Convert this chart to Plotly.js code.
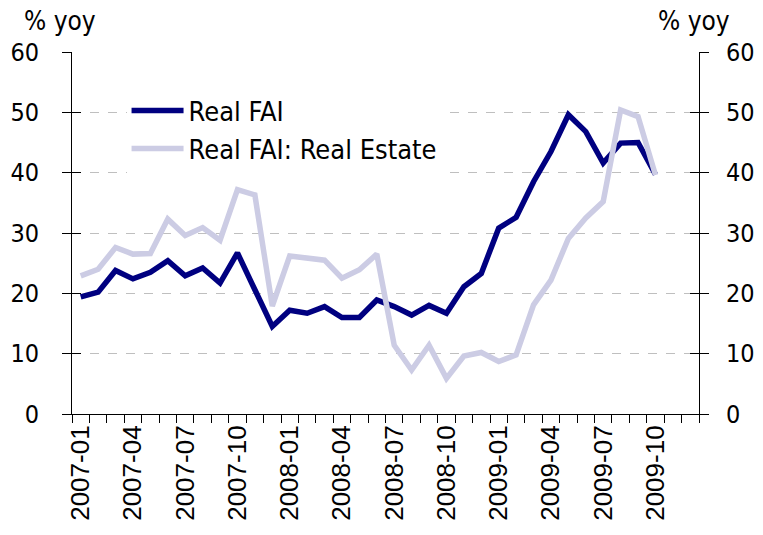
<!DOCTYPE html>
<html>
<head>
<meta charset="utf-8">
<script src="https://cdn.plot.ly/plotly-3.0.1.min.js"></script>
<style>
  html, body { margin: 0; padding: 0; background: #ffffff; }
  #chart { width: 763px; height: 535px; }
</style>
</head>
<body>
<div id="chart"></div>
<script>
// Axis categories (monthly), tick labels shown every third month
const months = [
  "2007-01","2007-02","2007-03","2007-04","2007-05","2007-06",
  "2007-07","2007-08","2007-09","2007-10","2007-11","2007-12",
  "2008-01","2008-02","2008-03","2008-04","2008-05","2008-06",
  "2008-07","2008-08","2008-09","2008-10","2008-11","2008-12",
  "2009-01","2009-02","2009-03","2009-04","2009-05","2009-06",
  "2009-07","2009-08","2009-09","2009-10","2009-11","2009-12"
];
const labelledMonths = [
  "2007-01","2007-04","2007-07","2007-10",
  "2008-01","2008-04","2008-07","2008-10",
  "2009-01","2009-04","2009-07","2009-10"
];
const dataMonths = months.slice(0, 34);

// Series values (% yoy)
const realFAI = [
  19.4, 20.2, 23.8, 22.4, 23.5, 25.4, 22.9, 24.2, 21.7, 26.7, 20.6, 14.5,
  17.2, 16.7, 17.8, 16.0, 16.0, 18.9, 17.8, 16.4, 18.0, 16.7, 21.1, 23.3,
  30.8, 32.6, 38.5, 43.5, 49.6, 46.8, 41.6, 44.9, 45.0, 39.7
];
const realEstate = [
  22.9, 24.0, 27.6, 26.5, 26.6, 32.3, 29.6, 30.9, 28.8, 37.2, 36.3, 17.9,
  26.2, 25.8, 25.5, 22.5, 23.9, 26.5, 11.4, 7.3, 11.4, 5.9, 9.6, 10.2,
  8.7, 9.8, 18.1, 22.2, 29.1, 32.5, 35.2, 50.4, 49.3, 39.6
];
const yTicks = [0, 10, 20, 30, 40, 50, 60];

const labelFont = "'DejaVu Sans Condensed', 'DejaVu Sans', sans-serif";

const traces = [
  {
    x: dataMonths, y: realFAI, name: "Real FAI", type: "scatter", mode: "lines",
    line: { color: "#000080", width: 5.5 }, hoverinfo: "skip"
  },
  {
    x: dataMonths, y: realEstate, name: "Real FAI: Real Estate", type: "scatter", mode: "lines",
    line: { color: "#CCCCE4", width: 5.5 }, hoverinfo: "skip"
  }
];
// transparent copies so the secondary (right / cross-tick) axes get drawn
["y2", "y3", "y4"].forEach(function (ax) {
  traces.push({
    x: dataMonths, y: realFAI, yaxis: ax, type: "scatter", mode: "lines",
    line: { color: "rgba(0,0,0,0)", width: 0 }, showlegend: false, hoverinfo: "skip"
  });
});

const yBase = {
  range: [0, 60], tickmode: "array", tickvals: yTicks,
  showline: true, linecolor: "#000000", linewidth: 1,
  ticklen: 9, tickcolor: "#000000", tickwidth: 1,
  tickfont: { family: labelFont, size: 25, color: "#000000" },
  zeroline: false, fixedrange: true
};

const layout = {
  width: 763, height: 535,
  margin: { l: 72, r: 64, t: 52, b: 121, pad: 0 },
  paper_bgcolor: "#ffffff", plot_bgcolor: "#ffffff",
  showlegend: true,
  legend: {
    x: 0.087, y: 0.905, xanchor: "left", yanchor: "top",
    bgcolor: "#ffffff", borderwidth: 0,
    font: { family: labelFont, size: 27, color: "#000000" },
    itemwidth: 52, tracegroupgap: 0
  },
  xaxis: {
    type: "category", categoryorder: "array", categoryarray: months,
    range: [-0.5, 35.5],
    tickmode: "array", tickvals: months,
    ticktext: months.map(m => labelledMonths.includes(m) ? m : ""),
    tickson: "boundaries", ticks: "outside", ticklen: 8, tickcolor: "#000000", tickwidth: 1,
    tickangle: -90,
    tickfont: { family: "'Liberation Sans', Arial, sans-serif", size: 26, color: "#000000" },
    showline: true, linecolor: "#000000", linewidth: 1,
    showgrid: false, zeroline: false, fixedrange: true
  },
  yaxis: Object.assign({}, yBase, {
    side: "left", ticks: "outside", ticklabelstandoff: 18,
    showgrid: true, gridcolor: "#BFBFBF", gridwidth: 1, griddash: "dash"
  }),
  yaxis2: Object.assign({}, yBase, {
    overlaying: "y", side: "right", ticks: "outside", ticklabelstandoff: 12, showgrid: false
  }),
  yaxis3: Object.assign({}, yBase, {
    overlaying: "y", side: "left", ticks: "inside", showticklabels: false, showgrid: false
  }),
  yaxis4: Object.assign({}, yBase, {
    overlaying: "y", side: "right", ticks: "inside", showticklabels: false, showgrid: false
  }),
  annotations: [
    {
      text: "% yoy", xref: "paper", yref: "paper", x: -0.08, y: 1.087,
      xanchor: "left", yanchor: "middle", showarrow: false,
      font: { family: labelFont, size: 26, color: "#000000" }
    },
    {
      text: "% yoy", xref: "paper", yref: "paper", x: 1.053, y: 1.087,
      xanchor: "right", yanchor: "middle", showarrow: false,
      font: { family: labelFont, size: 26, color: "#000000" }
    }
  ]
};

Plotly.newPlot("chart", traces, layout, { displayModeBar: false, staticPlot: true });
</script>
</body>
</html>
